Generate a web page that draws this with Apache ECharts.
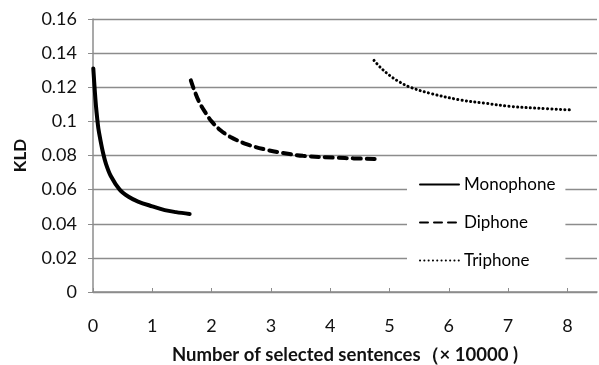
<!DOCTYPE html>
<html>
<head>
<meta charset="utf-8">
<script src="https://cdn.jsdelivr.net/npm/echarts@6/dist/echarts.min.js"></script>
<style>
html,body{margin:0;padding:0;background:#fff;}
#main{width:599px;height:365px;}
</style>
</head>
<body>
<div id="main"></div>
<script>
// KLD vs number of selected sentences (x 10000)
var monoX = [0.005, 0.03, 0.05, 0.07, 0.09, 0.12, 0.17, 0.22, 0.3, 0.45, 0.6, 0.76, 1.0, 1.21, 1.4, 1.63];
var monoY = [0.131, 0.118, 0.109, 0.102, 0.096, 0.09, 0.0815, 0.075, 0.068, 0.06, 0.0558, 0.053, 0.0502, 0.048, 0.0468, 0.0457];
var diX = [1.65, 1.7, 1.8, 1.9, 2.0, 2.15, 2.31, 2.6, 2.93, 3.2, 3.54, 4.1, 4.4, 4.75];
var diY = [0.124, 0.119, 0.1107, 0.105, 0.1, 0.0948, 0.091, 0.0865, 0.0833, 0.0815, 0.0798, 0.0787, 0.0783, 0.078];
var triX = [4.74, 4.85, 5.0, 5.15, 5.35, 5.7, 6.19, 6.6, 7.03, 7.5, 8.07];
var triY = [0.1357, 0.1315, 0.127, 0.1235, 0.12, 0.1163, 0.1126, 0.1107, 0.1088, 0.1077, 0.1067];
var xTicks = [0, 1, 2, 3, 4, 5, 6, 7, 8];

function pairs(xs, ys){
	var out = [];
	for (var i = 0; i < xs.length; i++) out.push([xs[i], ys[i]]);
	return out;
}

var font = 'Lato, "Open Sans", sans-serif';
var myChart = echarts.init(document.getElementById('main'));
var option = {
	animation: false,
	textStyle: { fontFamily: font },
	grid: { left: 93, right: 2, top: 19, bottom: 73, outerBoundsMode: 'none', containLabel: false },
	legend: {
		orient: 'vertical',
		left: 407,
		top: 170,
		backgroundColor: '#fff',
		padding: [6, 10, 6, 12],
		itemWidth: 39,
		itemHeight: 14,
		itemGap: 21,
		itemStyle: { opacity: 0 },
		textStyle: { fontSize: 17, color: '#000', fontFamily: font },
		data: ['Monophone', 'Diphone', 'Triphone']
	},
	xAxis: {
		type: 'value',
		min: 0,
		max: 8.5,
		interval: 1,
		name: 'Number of selected sentences（× 10000 )',
		nameLocation: 'middle',
		nameGap: 54,
		nameTextStyle: { fontSize: 18.5, fontWeight: 'bold', color: '#111', fontFamily: font },
		axisLine: { lineStyle: { color: '#8c8c8c', width: 1.5 } },
		axisTick: { inside: true, length: 4, customValues: xTicks, lineStyle: { color: '#8c8c8c' } },
		axisLabel: { margin: 25, fontSize: 18, color: '#111', customValues: xTicks },
		splitLine: { show: false }
	},
	yAxis: {
		type: 'value',
		min: 0,
		max: 0.16,
		interval: 0.02,
		name: 'KLD',
		nameLocation: 'middle',
		nameGap: 64,
		nameRotate: 90,
		nameTextStyle: { fontSize: 17, fontWeight: 'bold', color: '#111', fontFamily: font },
		axisLine: { show: true, lineStyle: { color: '#8c8c8c', width: 1.5 } },
		axisTick: { show: true, length: 5, lineStyle: { color: '#8c8c8c' } },
		axisLabel: { margin: 16, fontSize: 18, color: '#111' },
		splitLine: { lineStyle: { color: '#8c8c8c', width: 1.4 } }
	},
	series: [
		{
			name: 'Monophone',
			type: 'line',
			smooth: 0.35,
			symbol: 'none',
			color: '#000',
			lineStyle: { color: '#000', width: 4, cap: 'round' },
			data: pairs(monoX, monoY)
		},
		{
			name: 'Diphone',
			type: 'line',
			smooth: 0.35,
			symbol: 'none',
			color: '#000',
			lineStyle: { color: '#000', width: 4, type: [8, 6], cap: 'round' },
			data: pairs(diX, diY)
		},
		{
			name: 'Triphone',
			type: 'line',
			smooth: 0.35,
			symbol: 'none',
			color: '#000',
			lineStyle: { color: '#000', width: 3, type: [0.1, 4.2], cap: 'round' },
			data: pairs(triX, triY)
		}
	]
};
myChart.setOption(option);
</script>
</body>
</html>
